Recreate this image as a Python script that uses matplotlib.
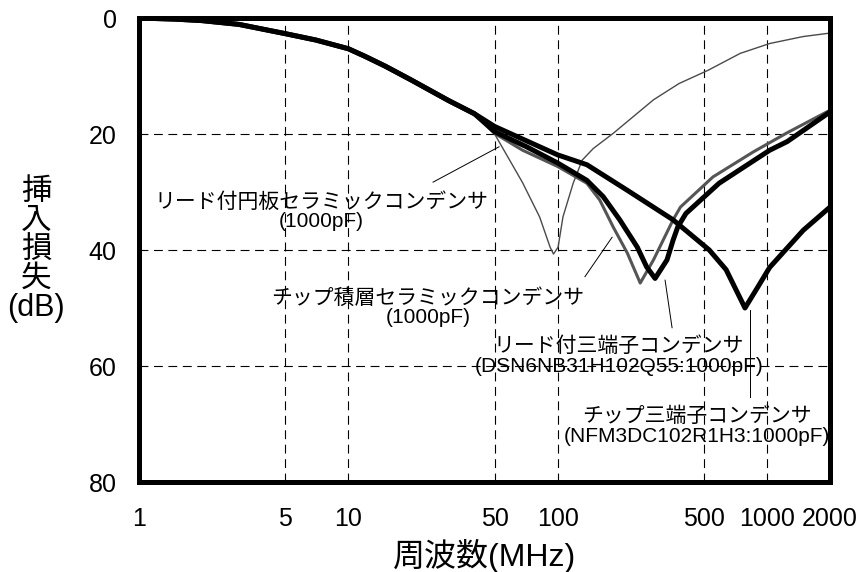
import numpy as np
import matplotlib
matplotlib.use("Agg")
import matplotlib.pyplot as plt
from matplotlib.ticker import FixedLocator, NullLocator

plt.rcParams['font.family'] = ['Liberation Sans', 'Noto Sans CJK JP']

# shared low frequency part of all four curves
f_common = [1, 1.5, 2, 3, 5, 7, 10, 12, 15, 20, 30, 40]
db_common = [0, 0.2, 0.45, 1.1, 2.7, 3.8, 5.3, 6.6, 8.3, 10.7, 14.2, 16.5]

# lead disc ceramic capacitor
f_disc = [50, 68, 82, 92, 95.5, 100.5, 106, 118.6, 131, 148, 184, 287, 380, 524, 745, 1030, 1487, 2000]
db_disc = [20.0, 28.4, 34.3, 39.5, 40.7, 39.5, 34.3, 28.5, 24.5, 22.5, 19.9, 14.1, 11.3, 9.0, 6.1, 4.4, 3.2, 2.6]

# chip multilayer ceramic capacitor
f_mlcc = [50, 68, 100, 138, 159, 184, 215, 248, 287, 356, 386, 552, 859, 1247, 2000]
db_mlcc = [19.9, 22.8, 25.6, 28.5, 31.4, 36.0, 40.5, 45.7, 41.7, 34.8, 32.6, 27.4, 23.1, 19.8, 15.9]

# lead three-terminal capacitor
f_lead3 = [50, 71, 100, 138, 165, 198, 240, 266, 292, 333, 356, 375, 410, 590, 1030, 1250, 2000]
db_lead3 = [19.6, 22.2, 25.0, 28.0, 30.8, 34.8, 39.5, 42.9, 44.9, 41.7, 38.3, 36.0, 33.7, 28.5, 22.8, 21.3, 16.2]

# chip three-terminal capacitor
f_chip3 = [50, 100, 138, 215, 356, 530, 638, 785, 900, 1030, 1490, 2000]
db_chip3 = [18.7, 23.6, 25.3, 29.7, 34.8, 40.0, 43.4, 50.0, 46.5, 43.0, 36.6, 32.6]

x_ticks = [1, 5, 10, 50, 100, 500, 1000, 2000]
x_grid = [5, 10, 50, 100, 500, 1000]
y_ticks = [0, 20, 40, 60, 80]
y_grid = [20, 40, 60]

labels = ['リード付円板セラミックコンデンサ\n(1000pF)',
          'チップ積層セラミックコンデンサ\n(1000pF)',
          'リード付三端子コンデンサ\n(DSN6NB31H102Q55:1000pF)',
          'チップ三端子コンデンサ\n(NFM3DC102R1H3:1000pF)']
label_pos = [(7.41, 33.4), (24.0, 49.9), (196.5, 58.3), (463, 70.4)]
leaders = [((25.4, 28.3), (52.5, 22.2)),
           ((135, 44.6), (182, 37.8)),
           ((352, 53.4), (326, 45.2)),
           ((830, 65.3), (830, 50.3))]

fig = plt.figure(figsize=(8.67, 5.72), dpi=100)
ax = fig.add_axes([139 / 867, 1 - 482 / 572, 691 / 867, 464 / 572])

# grid lines
for g in x_grid:
    ax.axvline(g, color='black', lw=0.8, ls=(0, (8, 5)), zorder=1)
for g in y_grid:
    ax.axhline(g, color='black', lw=0.8, ls=(0, (8, 5)), zorder=1)

def full(f, db):
    return f_common + f, db_common + db

ax.plot(*full(f_disc, db_disc), color='#4a4a4a', lw=1.0, zorder=3)
ax.plot(*full(f_mlcc, db_mlcc), color='#555555', lw=2.2, zorder=4)
ax.plot(*full(f_lead3, db_lead3), color='black', lw=3.6, zorder=5)
ax.plot(*full(f_chip3, db_chip3), color='black', lw=3.6, zorder=5)

for (p0, p1) in leaders:
    ax.plot([p0[0], p1[0]], [p0[1], p1[1]], color='black', lw=0.7, zorder=2)

for txt, (x, y) in zip(labels, label_pos):
    ax.text(x, y, txt, ha='center', va='center', fontsize=15,
            linespacing=1.05, zorder=2)

ax.set_xscale('log')
ax.set_xlim(1, 2000)
ax.set_ylim(80, 0)
ax.xaxis.set_major_locator(FixedLocator(x_ticks))
ax.xaxis.set_minor_locator(NullLocator())
ax.set_xticklabels([str(t) for t in x_ticks])
ax.set_yticks(y_ticks)
ax.tick_params(axis='both', length=0, labelsize=18)
ax.tick_params(axis='x', pad=18)
ax.tick_params(axis='y', pad=16)

for s in ax.spines.values():
    s.set_linewidth(3.6)
    s.set_zorder(6)

ax.set_xlabel('周波数(MHz)', fontsize=23, labelpad=6)
ax.set_ylabel('挿\n入\n損\n失\n(dB)', fontsize=22, rotation=0,
              linespacing=0.95, va='center', ha='center', labelpad=38)

fig.savefig('out.png', dpi=100)
